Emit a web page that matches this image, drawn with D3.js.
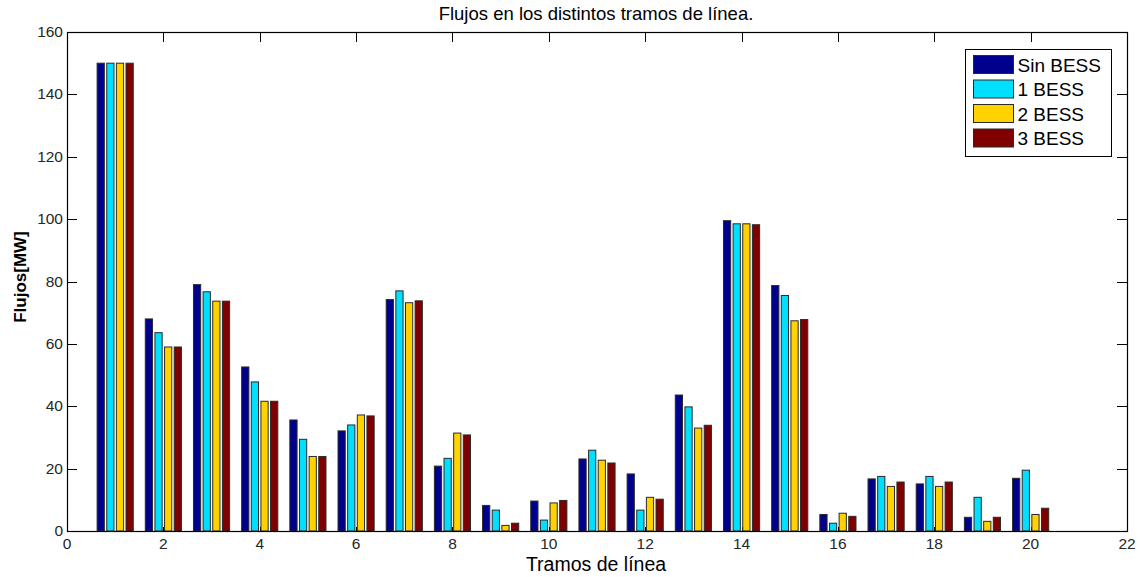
<!DOCTYPE html>
<html>
<head>
<meta charset="utf-8">
<script src="https://cdn.jsdelivr.net/npm/d3@7"></script>
<style>
  html, body { margin: 0; padding: 0; background: #fff; }
  svg { display: block; font-family: Arial, "Liberation Sans", sans-serif; }
</style>
</head>
<body>
<svg id="chart" width="1143" height="577"></svg>
<script>
// Line segments 1..20 and power flow per scenario (MW)
const tramos = d3.range(1, 21);
const seriesNames = ["Sin BESS", "1 BESS", "2 BESS", "3 BESS"];
const seriesColors = ["#00008f", "#00dfff", "#ffd200", "#800000"];

const sinBess  = [150, 68.0, 79.0, 52.6, 35.6, 32.1, 74.2, 20.8, 8.2, 9.6, 23.1, 18.3, 43.6, 99.5, 78.7, 5.3, 16.7, 15.1, 4.4, 16.9];
const unBess   = [150, 63.6, 76.7, 47.8, 29.4, 34.0, 77.0, 23.3, 6.7, 3.5, 25.9, 6.7, 39.8, 98.5, 75.5, 2.5, 17.5, 17.5, 10.8, 19.5];
const dosBess  = [150, 59.0, 73.7, 41.6, 23.9, 37.2, 73.2, 31.4, 1.8, 9.0, 22.7, 10.8, 33.0, 98.5, 67.4, 5.7, 14.3, 14.3, 3.1, 5.3];
const tresBess = [150, 59.0, 73.7, 41.6, 23.9, 36.9, 73.8, 30.8, 2.5, 9.8, 21.8, 10.2, 33.9, 98.2, 67.8, 4.7, 15.7, 15.7, 4.4, 7.3];
const seriesValues = [sinBess, unBess, dosBess, tresBess];

const xTicks = [0, 2, 4, 6, 8, 10, 12, 14, 16, 18, 20, 22];
const yTicks = [0, 20, 40, 60, 80, 100, 120, 140, 160];

const svg = d3.select("#chart");
const margin = { left: 67, right: 16, top: 32, bottom: 46 };
const W = 1143, H = 577;
const plotW = W - margin.left - margin.right;
const plotH = H - margin.top - margin.bottom;

const x = d3.scaleLinear().domain([0, 22]).range([margin.left, margin.left + plotW]);
const y = d3.scaleLinear().domain([0, 160]).range([margin.top + plotH, margin.top]);

// Grouped bar layout: group spans 0.8 units, each bar 0.15 units
const groupWidth = 0.8;
const slot = groupWidth / seriesNames.length;
const barW = 0.15;

const tickColor = "#262626";
const tickLen = 10;

// Inward ticks (drawn first, bars sit over them)
const tickG = svg.append("g").attr("stroke", "#000").attr("stroke-width", 1);
xTicks.forEach(t => {
  const px = Math.round(x(t)) + 0.5;
  tickG.append("line").attr("x1", px).attr("x2", px).attr("y1", y(0)).attr("y2", y(0) - 4);
  tickG.append("line").attr("x1", px).attr("x2", px).attr("y1", y(160)).attr("y2", y(160) + tickLen);
});
yTicks.forEach(t => {
  const py = Math.round(y(t)) + 0.5;
  tickG.append("line").attr("x1", x(0)).attr("x2", x(0) + tickLen).attr("y1", py).attr("y2", py);
  tickG.append("line").attr("x1", x(22)).attr("x2", x(22) - tickLen).attr("y1", py).attr("y2", py);
});

// Bars
seriesValues.forEach((vals, si) => {
  svg.append("g")
    .selectAll("rect")
    .data(vals)
    .join("rect")
    .attr("x", (d, i) => x(tramos[i] - groupWidth / 2 + slot * si + (slot - barW) / 2))
    .attr("width", x(barW) - x(0))
    .attr("y", d => y(d))
    .attr("height", d => y(0) - y(d))
    .attr("fill", seriesColors[si])
    .attr("stroke", "#2a2a2a")
    .attr("stroke-width", 1);
});

// Axes box
svg.append("rect")
  .attr("x", x(0) + 0.5).attr("y", y(160) + 0.5)
  .attr("width", x(22) - x(0)).attr("height", y(0) - y(160))
  .attr("fill", "none").attr("stroke", "#000").attr("stroke-width", 1.2);

// Tick labels
svg.append("g").selectAll("text").data(xTicks).join("text")
  .attr("x", d => x(d)).attr("y", y(0) + 18)
  .attr("text-anchor", "middle")
  .attr("font-size", 15.5).attr("fill", tickColor)
  .text(d => d);

svg.append("g").selectAll("text").data(yTicks).join("text")
  .attr("x", x(0) - 4).attr("y", d => y(d) + 5)
  .attr("text-anchor", "end")
  .attr("font-size", 15.5).attr("fill", tickColor)
  .text(d => d);

// Title and axis labels
svg.append("text")
  .attr("x", 596).attr("y", 20)
  .attr("text-anchor", "middle").attr("font-size", 18.5).attr("fill", "#000")
  .text("Flujos en los distintos tramos de línea.");

svg.append("text")
  .attr("x", 596).attr("y", 571)
  .attr("text-anchor", "middle").attr("font-size", 19.5).attr("fill", "#000")
  .text("Tramos de línea");

svg.append("text")
  .attr("transform", `translate(26, 277) rotate(-90)`)
  .attr("text-anchor", "middle").attr("font-size", 17).attr("font-weight", "bold").attr("fill", "#000")
  .text("Flujos[MW]");

// Legend
const lg = svg.append("g").attr("transform", "translate(965.5, 49.5)");
lg.append("rect").attr("width", 146).attr("height", 107)
  .attr("fill", "#fff").attr("stroke", "#000").attr("stroke-width", 1);
seriesNames.forEach((name, i) => {
  const row = lg.append("g").attr("transform", `translate(8, ${6 + i * 24.5})`);
  row.append("rect").attr("width", 40).attr("height", 18)
    .attr("fill", seriesColors[i]).attr("stroke", "#2a2a2a").attr("stroke-width", 1);
  row.append("text").attr("x", 44).attr("y", 16)
    .attr("font-size", 19).attr("fill", "#000").text(name);
});
</script>
</body>
</html>
